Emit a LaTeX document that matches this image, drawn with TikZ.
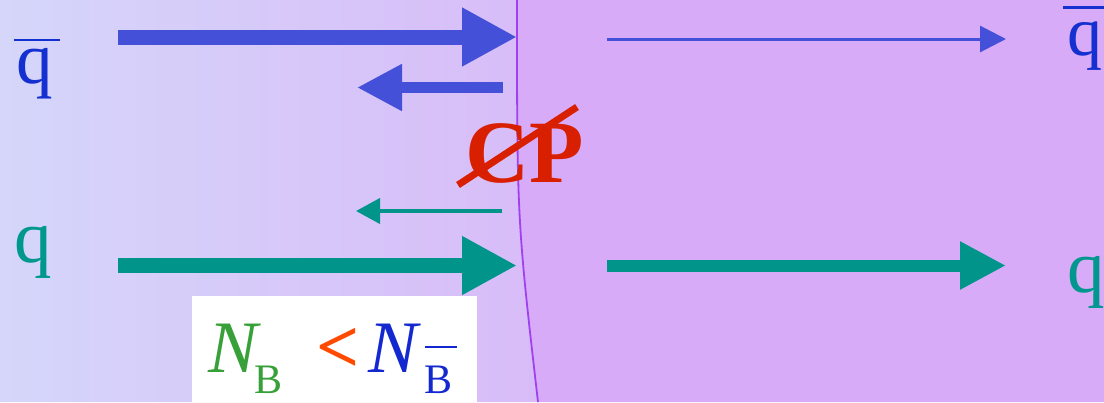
\documentclass[tikz,border=0pt]{standalone}
\usepackage{fontspec}
\setmainfont{Liberation Serif}
\usetikzlibrary{arrows.meta}
\definecolor{bgL}{HTML}{D5D6FA}
\definecolor{bgM}{HTML}{D8BCF8}
\definecolor{bgR}{HTML}{D8ABF9}
\definecolor{wall}{HTML}{A040F0}
\definecolor{arrblue}{HTML}{4450D8}
\definecolor{arrteal}{HTML}{00948A}
\definecolor{lblue}{HTML}{1430D0}
\definecolor{lteal}{HTML}{00988E}
\definecolor{cpred}{HTML}{D82000}
\definecolor{ngreen}{HTML}{38A038}
\definecolor{nor}{HTML}{FF4A00}
\definecolor{nblue}{HTML}{1428D0}
\tikzset{
  lbl/.style={inner sep=0pt, outer sep=0pt, anchor=base west},
  fat/.style={line width=15pt, -{Triangle[length=55pt,width=55pt]}},
}
\begin{document}
\begin{tikzpicture}[x=1pt,y=-1pt]
\useasboundingbox (0,0) rectangle (1104,402);
% backgrounds
\shade[left color=bgL, right color=bgM] (0,0) -- (517,0) .. controls (517,220) .. (538,402) -- (0,402) -- cycle;
\fill[bgR] (517,0) .. controls (517,220) .. (538,402) -- (1104,402) -- (1104,0) -- cycle;
\draw[wall, line width=1.8pt] (517,0) .. controls (517,220) .. (538,402);
% white box
\fill[white] (192,296) rectangle (477,402);
% coordinates
\coordinate (a1s) at (118,37);  \coordinate (a1e) at (517,37);
\coordinate (a2s) at (503,87.5); \coordinate (a2e) at (357,87.5);
\coordinate (a3s) at (607,39);  \coordinate (a3e) at (1006,39);
\coordinate (b1s) at (502,211); \coordinate (b1e) at (356,211);
\coordinate (b2s) at (118,265.5); \coordinate (b2e) at (517,265.5);
\coordinate (b3s) at (607,265.5); \coordinate (b3e) at (1006,265.5);
% arrows
\draw[arrblue, fat] (a1s) -- (a1e);
\draw[arrblue, line width=11pt, -{Triangle[length=45pt,width=44pt]}] (a2s) -- (a2e);
\draw[arrblue, line width=3pt, -{Triangle[length=26pt,width=26pt]}] (a3s) -- (a3e);
\draw[arrteal, line width=4pt, -{Triangle[length=24pt,width=25pt]}] (b1s) -- (b1e);
\draw[arrteal, fat] (b2s) -- (b2e);
\draw[arrteal, line width=12pt, -{Triangle[length=46pt,width=45pt]}] (b3s) -- (b3e);
% labels
\node[lbl, text=lblue] (qbarL) at (14,83) {\fontsize{73}{80}\selectfont\rlap{\raisebox{0.575em}{\rule{0.63em}{0.033em}}}\hspace{0.04em}q};
\node[lbl, text=lteal] (qL) at (15,262) {\fontsize{75}{80}\selectfont q};
\node[lbl, text=lblue] (qbarR) at (1063,55) {\fontsize{70}{75}\selectfont\rlap{\raisebox{0.66em}{\rule{0.7em}{0.035em}}}\hspace{0.06em}q};
\node[lbl, text=lteal] (qR) at (1067,292.5) {\fontsize{75}{80}\selectfont q};
% CP
\node[lbl, text=cpred] (cp) at (465,182) {\fontsize{89}{95}\selectfont\bfseries CP};
\draw[cpred, line width=7pt] (458,185) -- (577,107);
% N_B < N_Bbar
\node[lbl, text=ngreen] (N1) at (208,372) {\fontsize{74}{80}\selectfont\itshape N};
\node[lbl, text=ngreen] (B1) at (254,393) {\fontsize{42}{45}\selectfont B};
\node[lbl, text=nor] (lt) at (316,372) {\fontsize{76}{80}\selectfont\bfseries <};
\node[lbl, text=nblue] (N2) at (368,372) {\fontsize{74}{80}\selectfont\itshape N};
\node[lbl, text=nblue] (B2) at (424,393) {\fontsize{42}{45}\selectfont B};
\draw[nblue, line width=2.5pt] (425,347) -- (457,347);
\end{tikzpicture}
\end{document}
